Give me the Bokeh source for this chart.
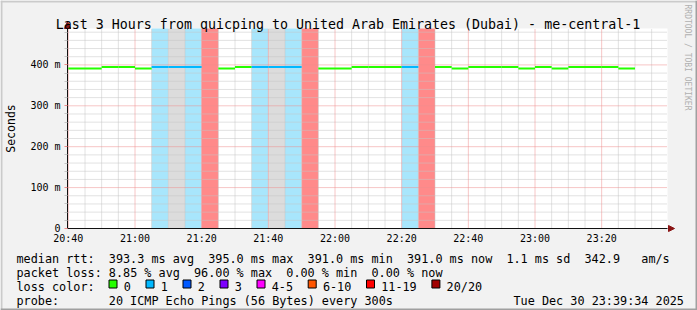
import math
import re
from datetime import datetime, timedelta

from bokeh.plotting import figure
from bokeh.models import (FixedTicker, DatetimeTickFormatter, Label, Range1d,
                          ColumnDataSource, DatetimeAxis, LinearAxis)
from bokeh.embed import file_html
from bokeh.resources import INLINE

# ---------------- data ----------------
TITLE = "Last 3 Hours from quicping to United Arab Emirates (Dubai) - me-central-1"
FIRST_SLOT = datetime(2025, 12, 30, 20, 40)
STEP_MIN = 5
# median rtt per 5-minute step (ms); None = no median drawn
median_ms = [391, 391, 395, 395, 391, 395, 395, 395, None, 391,
             395, 395, 395, 395, None, 391, 391, 395, 395, 395,
             395, None, 395, 391, 395, 395, 395, 391, 395, 391,
             395, 395, 395, 391]
# lost pings (of 20) per step; None = unknown (grey background)
loss_pings = [0, 0, 0, 0, 0, 1, None, 1, 19, 0,
              0, 1, None, 1, 19, 0, 0, 0, 0, 0,
              1, 19, 0, 0, 0, 0, 0, 0, 0, 0,
              0, 0, 0, 0]

LOSS_LABELS = ["0", "1", "2", "3", "4-5", "6-10", "11-19", "20/20"]
LOSS_COLORS = ["#26ff00", "#00b8ff", "#0059ff", "#7e00ff", "#ff00ff", "#ff5500", "#ff0000", "#a10000"]
BG_COLORS = ["#ffffff", "#a8e6fc", "#a6c5ff", "#cfa6ff", "#ffa6ff", "#ffbb99", "#ff8a8a", "#d98a8a"]
UNKNOWN_BG = "#dcdcdc"

Y_TICKS = [0, 100, 200, 300, 400]
Y_TICK_LABELS = ["0", "100 m", "200 m", "300 m", "400 m"]
Y_MINOR_STEP = 20
Y_MAX = 489
X_START = datetime(2025, 12, 30, 20, 39, 45)
X_END = datetime(2025, 12, 30, 23, 39, 45)
X_MAJOR_MIN = 20
X_MINOR_MIN = 5

STATS_RTT = "median rtt:  393.3 ms avg  395.0 ms max  391.0 ms min  391.0 ms now  1.1 ms sd  342.9   am/s"
STATS_LOSS = "packet loss: 8.85 % avg  96.00 % max  0.00 % min  0.00 % now"
PROBE = "probe:       20 ICMP Echo Pings (56 Bytes) every 300s"
STAMP = "Tue Dec 30 23:39:34 2025"
LOSS_HEAD = "loss color:"
Y_LABEL = "Seconds"
WATERMARK = "RRDTOOL / TOBI OETIKER"


def loss_index(n):
    if n <= 3:
        return n
    if n <= 5:
        return 4
    if n <= 10:
        return 5
    if n <= 19:
        return 6
    return 7


EPOCH = datetime(1970, 1, 1)


def ms(dt):
    return (dt - EPOCH).total_seconds() * 1000.0


# ---------------- layout ----------------
W, H = 697, 310
FL, FR, FT, FB = 67, 667, 28, 228     # plot area edges (canvas px)
MONO = "DejaVu Sans Mono"
BACK = "#f2f2f2"

t0, t1 = ms(X_START), ms(X_END)
mpp = (t1 - t0) / (FR - FL)           # ms per pixel
vpp = Y_MAX / (FB - FT)               # value per pixel

# canvas-sized frame: primary ranges are canvas pixels (y down), extra ranges hold the data scales
p = figure(width=W, height=H, output_backend="svg", toolbar_location=None,
           x_axis_type=None, y_axis_type=None,
           x_range=Range1d(0, W), y_range=Range1d(H, 0),
           min_border=0, min_border_left=0, min_border_right=0,
           min_border_top=0, min_border_bottom=0,
           background_fill_color=BACK, border_fill_color=BACK, outline_line_color=None)
p.title.visible = False
p.extra_x_ranges = {"t": Range1d(t0 - FL * mpp, t0 + (W - FL) * mpp)}
p.extra_y_ranges = {"v": Range1d(-(H - FB) * vpp, Y_MAX + FT * vpp)}
D = dict(x_range_name="t", y_range_name="v")

# ticks
t = datetime(2025, 12, 30, 20, 40)
x_major, x_minor = [], []
while t <= X_END:
    (x_major if t.minute % X_MAJOR_MIN == 0 else x_minor).append(ms(t))
    t += timedelta(minutes=X_MINOR_MIN)
y_minor = [v for v in range(0, Y_MAX, Y_MINOR_STEP) if v not in Y_TICKS]

# plot area
p.quad(left=[t0], right=[t1], bottom=[0], top=[Y_MAX], fill_color="#ffffff",
       line_color=None, **D)

# loss backgrounds and median line
bg = dict(left=[], right=[], color=[])
seg = dict(x0=[], x1=[], y=[], color=[])
last_color = LOSS_COLORS[0]
for i, (m, lp) in enumerate(zip(median_ms, loss_pings)):
    s = FIRST_SLOT + timedelta(minutes=STEP_MIN * i)
    e = s + timedelta(minutes=STEP_MIN)
    if lp is None:
        bg["left"].append(ms(s)); bg["right"].append(ms(e)); bg["color"].append(UNKNOWN_BG)
        col = last_color
    else:
        li = loss_index(lp)
        col = LOSS_COLORS[li]
        last_color = col
        if lp > 0:
            bg["left"].append(ms(s)); bg["right"].append(ms(e)); bg["color"].append(BG_COLORS[li])
    if m is not None:
        seg["x0"].append(ms(s)); seg["x1"].append(ms(e)); seg["y"].append(m); seg["color"].append(col)

p.quad(left="left", right="right", bottom=0, top=Y_MAX, fill_color="color",
       line_color=None, source=ColumnDataSource(bg), **D)

# grid (dotted), limited to the plot area
MINOR_GRID = "#c4c4c4"
MAJOR_GRID = "#ee8c8c"
vx_min = [x for x in x_minor if t0 < x < t1]
vx_maj = [x for x in x_major if t0 + 1 < x < t1]
p.segment(x0=vx_min, y0=[0] * len(vx_min), x1=vx_min, y1=[Y_MAX] * len(vx_min),
          line_color=MINOR_GRID, line_dash="1 1", line_width=1, **D)
p.segment(x0=[t0] * len(y_minor), y0=y_minor, x1=[t1] * len(y_minor), y1=y_minor,
          line_color=MINOR_GRID, line_dash="1 1", line_width=1, **D)
p.segment(x0=vx_maj, y0=[0] * len(vx_maj), x1=vx_maj, y1=[Y_MAX] * len(vx_maj),
          line_color=MAJOR_GRID, line_dash="1 1", line_width=1, **D)
yt = [v for v in Y_TICKS if v > 0]
p.segment(x0=[t0] * len(yt), y0=yt, x1=[t1] * len(yt), y1=yt,
          line_color=MAJOR_GRID, line_dash="1 1", line_width=1, **D)

p.segment(x0="x0", y0="y", x1="x1", y1="y", line_color="color", line_width=2,
          line_cap="butt", source=ColumnDataSource(seg), **D)

# axes drawn at fixed data locations on the data scales
fmt = "%H:%M"
xaxis = DatetimeAxis(x_range_name="t", y_range_name="v", fixed_location=0,
                     bounds=(t0, t1),
                     ticker=FixedTicker(ticks=x_major, minor_ticks=x_minor),
                     formatter=DatetimeTickFormatter(seconds=fmt, minsec=fmt, minutes=fmt,
                                                     hourmin=fmt, hours=fmt, days=fmt))
yaxis = LinearAxis(x_range_name="t", y_range_name="v", fixed_location=t0,
                   bounds=(0, Y_MAX),
                   ticker=FixedTicker(ticks=Y_TICKS, minor_ticks=y_minor),
                   major_label_overrides={v: s for v, s in zip(Y_TICKS, Y_TICK_LABELS)})
for ax in (xaxis, yaxis):
    ax.major_label_text_font = MONO
    ax.major_label_text_font_size = "10px"
    ax.major_label_text_color = "#000000"
    ax.axis_line_color = "#111111"
    ax.major_tick_in = 0
    ax.minor_tick_in = 0
xaxis.major_tick_out = 0
xaxis.minor_tick_out = 0
xaxis.major_label_standoff = 4
yaxis.major_tick_out = 3
yaxis.minor_tick_out = 3
yaxis.major_tick_line_color = MAJOR_GRID
yaxis.minor_tick_line_color = MINOR_GRID
yaxis.major_label_standoff = 4
p.add_layout(xaxis, "below")
p.add_layout(yaxis, "left")

# axis arrow heads (decoration, canvas px)
ARROW = "#8a1414"
p.patches(xs=[[FR + 1, FR + 7, FR + 1], [FL - 3, FL, FL + 3]],
          ys=[[FB - 3, FB, FB + 3], [FT, FT - 7, FT]],
          fill_color=ARROW, line_color=ARROW, line_width=1)

# 3D frame around the canvas
p.quad(left=[0, 0, W - 2, 0], right=[W, 2, W, W], top=[0, 0, 0, H - 2], bottom=[2, H, H, H],
       fill_color=["#cbcbcb", "#cbcbcb", "#a0a0a0", "#a0a0a0"], line_color=None)


def label(cx, cy, text, size="11.8px", color="#000000", align="left",
          baseline="alphabetic", angle=0.0):
    p.add_layout(Label(x=cx, y=cy, text=text, text_font=MONO, text_font_size=size,
                       text_color=color, text_align=align, text_baseline=baseline,
                       angle=angle))


CW = 7.1
X0 = 16


def row(cy, s):
    # place each run of text at its character column (monospace layout)
    for mt in re.finditer(r"\S+(?: \S+)*", s):
        label(X0 + mt.start() * CW, cy, mt.group(0))


label(347.5, 24, TITLE, size="13.3px", align="center")
label(10.5, 128, Y_LABEL, size="11.5px", align="center", baseline="middle", angle=math.pi / 2)
label(687, 4, WATERMARK, size="8px", color="#b0b0b0", align="left", baseline="middle",
      angle=-math.pi / 2)

row(258, STATS_RTT)
row(272, STATS_LOSS)
row(286, LOSS_HEAD)
row(300, PROBE.ljust(70) + STAMP)

# loss colour swatches
swx = 108.5
sw = dict(left=[], right=[], top=[], bottom=[], color=[])
for lab_txt, col in zip(LOSS_LABELS, LOSS_COLORS):
    sw["left"].append(swx); sw["right"].append(swx + 8)
    sw["top"].append(279.5); sw["bottom"].append(287.5); sw["color"].append(col)
    label(swx + 14.7, 286, lab_txt)
    swx = swx + 14.7 + len(lab_txt) * CW + 15.2
p.quad(left="left", right="right", top="top", bottom="bottom", fill_color="color",
       line_color="#000000", line_width=1, source=ColumnDataSource(sw))

open("out.html", "w").write(file_html(p, INLINE))
